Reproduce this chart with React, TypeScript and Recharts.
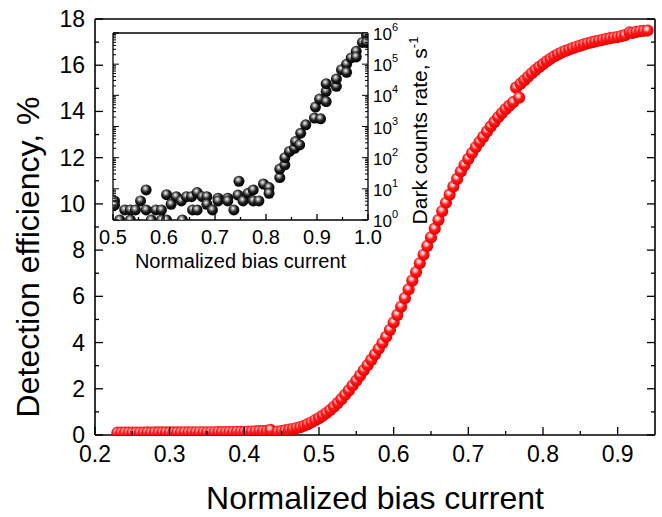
import { ScatterChart, Scatter, XAxis, YAxis } from 'recharts';

const FONT = '"Liberation Sans", Arial, Helvetica, sans-serif';

// Main plot: detection efficiency (%) vs normalized bias current
const EFF_X = [
  0.230, 0.235, 0.240, 0.245, 0.250, 0.255, 0.260, 0.265, 0.270, 0.275,
  0.280, 0.285, 0.290, 0.295, 0.300, 0.305, 0.310, 0.315, 0.320, 0.325,
  0.330, 0.335, 0.340, 0.345, 0.350, 0.355, 0.360, 0.365, 0.370, 0.375,
  0.380, 0.385, 0.390, 0.395, 0.400, 0.405, 0.410, 0.415, 0.420, 0.425,
  0.430, 0.435, 0.445, 0.450, 0.455, 0.460, 0.465, 0.470, 0.475, 0.480,
  0.485, 0.490, 0.495, 0.500, 0.505, 0.510, 0.515, 0.520, 0.525, 0.530,
  0.535, 0.540, 0.545, 0.550, 0.555, 0.560, 0.565, 0.570, 0.575, 0.580,
  0.585, 0.590, 0.595, 0.600, 0.605, 0.610, 0.615, 0.620, 0.625, 0.630,
  0.635, 0.640, 0.645, 0.650, 0.655, 0.660, 0.665, 0.670, 0.675, 0.680,
  0.685, 0.690, 0.695, 0.700, 0.705, 0.710, 0.715, 0.720, 0.725, 0.730,
  0.735, 0.740, 0.745, 0.750, 0.755, 0.760, 0.764, 0.768, 0.770, 0.775,
  0.780, 0.785, 0.790, 0.795, 0.800, 0.805, 0.810, 0.815, 0.820, 0.825,
  0.830, 0.835, 0.840, 0.845, 0.850, 0.855, 0.860, 0.865, 0.870, 0.875,
  0.880, 0.885, 0.890, 0.895, 0.900, 0.905, 0.910, 0.916, 0.920, 0.925,
  0.930, 0.935, 0.940,
];

const EFF_Y = [
  0.10, 0.10, 0.10, 0.10, 0.10, 0.10, 0.10, 0.10, 0.11, 0.10,
  0.11, 0.11, 0.11, 0.11, 0.11, 0.11, 0.11, 0.11, 0.12, 0.11,
  0.12, 0.12, 0.12, 0.12, 0.12, 0.12, 0.12, 0.13, 0.13, 0.13,
  0.13, 0.13, 0.14, 0.14, 0.14, 0.15, 0.15, 0.16, 0.17, 0.17,
  0.18, 0.22, 0.15, 0.17, 0.20, 0.23, 0.26, 0.30, 0.34, 0.40,
  0.47, 0.55, 0.64, 0.73, 0.84, 0.95, 1.08, 1.22, 1.38, 1.55,
  1.74, 1.93, 2.14, 2.35, 2.57, 2.80, 3.02, 3.25, 3.49, 3.73,
  3.98, 4.25, 4.55, 4.87, 5.20, 5.55, 5.92, 6.30, 6.68, 7.05,
  7.43, 7.80, 8.18, 8.55, 8.93, 9.30, 9.68, 10.05, 10.40, 10.75,
  11.08, 11.40, 11.68, 11.95, 12.20, 12.45, 12.68, 12.90, 13.13, 13.35,
  13.55, 13.75, 13.93, 14.10, 14.25, 14.40, 15.03, 14.60, 15.20, 15.35,
  15.50, 15.65, 15.80, 15.93, 16.05, 16.17, 16.28, 16.38, 16.47, 16.55,
  16.62, 16.68, 16.74, 16.80, 16.85, 16.90, 16.95, 16.99, 17.03, 17.07,
  17.10, 17.14, 17.17, 17.20, 17.22, 17.26, 17.30, 17.42, 17.40, 17.44,
  17.47, 17.49, 17.50,
];

// Inset: dark counts rate (1/s) vs normalized bias current
const DARK_X = [
  0.503, 0.503, 0.513, 0.523, 0.534, 0.534, 0.544, 0.554, 0.565, 0.565,
  0.575, 0.584, 0.595, 0.595, 0.605, 0.605, 0.614, 0.624, 0.634, 0.636,
  0.644, 0.654, 0.656, 0.665, 0.665, 0.675, 0.684, 0.684, 0.695, 0.706,
  0.706, 0.725, 0.725, 0.737, 0.745, 0.747, 0.755, 0.765, 0.775, 0.775,
  0.786, 0.795, 0.806, 0.806, 0.827, 0.827, 0.837, 0.837, 0.846, 0.856,
  0.858, 0.866, 0.868, 0.878, 0.895, 0.897, 0.907, 0.905, 0.918, 0.918,
  0.918, 0.938, 0.938, 0.948, 0.958, 0.958, 0.967, 0.977, 0.977, 0.989,
  0.997, 0.997,
];

const DARK_Y = [
  4.1, 3.0, 1, 2.1, 2.1, 1, 2.1, 4.1, 9.2, 2.1,
  1, 2.1, 2.1, 1, 6.5, 1, 3.2, 5.6, 4.1, 1,
  5.6, 5.6, 2.1, 7.6, 2.1, 5.6, 5.6, 3.2, 2.1, 5.0,
  4.1, 5.0, 4.1, 2.1, 6.3, 17.5, 4.1, 7.2, 9.2, 4.1,
  4.1, 14.3, 11, 7.2, 23, 43, 59, 100, 158, 200,
  330, 257, 610, 1130, 1860, 4200, 1770, 7600, 6300, 13400,
  23600, 19400, 33500, 66500, 100000, 54600, 158000, 258000, 170000, 500000,
  890000, 500000,
];

const MAIN_X_LABELS = [0.2, 0.3, 0.4, 0.5, 0.6, 0.7, 0.8, 0.9];
const MAIN_X_TICKS = [0.2, 0.25, 0.3, 0.35, 0.4, 0.45, 0.5, 0.55, 0.6, 0.65, 0.7, 0.75, 0.8, 0.85, 0.9];
const MAIN_Y_LABELS = [0, 2, 4, 6, 8, 10, 12, 14, 16, 18];
const MAIN_Y_TICKS = [0, 1, 2, 3, 4, 5, 6, 7, 8, 9, 10, 11, 12, 13, 14, 15, 16, 17, 18];

const INSET_X_LABELS = [0.5, 0.6, 0.7, 0.8, 0.9, 1.0];
const INSET_X_TICKS = [0.5, 0.55, 0.6, 0.65, 0.7, 0.75, 0.8, 0.85, 0.9, 0.95, 1.0];
const INSET_DECADES = [1, 10, 100, 1000, 10000, 100000, 1000000];
const LOG_STEPS = [1, 2, 3, 4, 5, 6, 7, 8, 9];
const INSET_Y_TICKS = INSET_DECADES.slice(0, -1)
  .flatMap((d) => LOG_STEPS.map((m) => d * m))
  .concat([1000000]);

const effData = EFF_X.map((x, i) => ({ x, y: EFF_Y[i] }));
const darkData = DARK_X.map((x, i) => ({ x, y: DARK_Y[i] }));

const RedBall = (p: any) => <circle cx={p.cx} cy={p.cy} r={6.1} fill="url(#redBall)" />;
const BlackBall = (p: any) => <circle cx={p.cx} cy={p.cy} r={5.5} fill="url(#blackBall)" />;

const txt = { fontFamily: FONT, fill: '#000' };

function xTick(side: 'top' | 'bottom', labels: number[] | null, size: number, gap: number, major = 8, minor = 4) {
  return (props: any) => {
    const { x, y, payload } = props;
    const v = payload.value as number;
    const isMajor = INSET_X_LABELS.includes(v) || MAIN_X_LABELS.includes(v);
    const len = isMajor ? major : minor;
    const dir = side === 'top' ? 1 : -1;
    return (
      <g>
        <line x1={x} x2={x} y1={y} y2={y + dir * len} stroke="#000" strokeWidth={1.3} />
        {labels && labels.includes(v) && (
          <text x={x} y={y + gap} textAnchor="middle" fontSize={size} {...txt}>
            {v.toFixed(1)}
          </text>
        )}
      </g>
    );
  };
}

function mainYTick(side: 'left' | 'right') {
  return (props: any) => {
    const { x, y, payload } = props;
    const v = payload.value as number;
    const isMajor = MAIN_Y_LABELS.includes(v);
    const len = isMajor ? 8 : 4;
    const dir = side === 'left' ? 1 : -1;
    return (
      <g>
        <line x1={x} x2={x + dir * len} y1={y} y2={y} stroke="#000" strokeWidth={1.3} />
        {side === 'left' && isMajor && (
          <text x={x - 10} y={y + 8} textAnchor="end" fontSize={23} {...txt}>
            {v}
          </text>
        )}
      </g>
    );
  };
}

function logTick(side: 'left' | 'right') {
  return (props: any) => {
    const { x, y, payload } = props;
    const v = payload.value as number;
    const isMajor = INSET_DECADES.includes(v);
    const len = isMajor ? 6 : 3;
    const dir = side === 'left' ? 1 : -1;
    return (
      <g>
        <line x1={x} x2={x + dir * len} y1={y} y2={y} stroke="#000" strokeWidth={1} />
        {side === 'right' && isMajor && (
          <text x={x + 5} y={y + 7} fontSize={17} {...txt}>
            10
            <tspan dy={-9} fontSize={11}>
              {Math.round(Math.log10(v))}
            </tspan>
          </text>
        )}
      </g>
    );
  };
}

const axisLine = { stroke: '#000', strokeWidth: 1.6 };
const insetLine = { stroke: '#000', strokeWidth: 1.3 };

export default function App() {
  return (
    <div style={{ position: 'absolute', left: 0, top: 0, width: 662, height: 517, background: '#fff' }}>
      <ScatterChart width={662} height={517} margin={{ top: 0, right: 0, bottom: 0, left: 0 }}>
        <defs>
          <radialGradient id="redBall" cx="0.42" cy="0.38" r="0.62" fx="0.42" fy="0.34">
            <stop offset="0" stopColor="#ffffff" />
            <stop offset="0.2" stopColor="#ffb4b4" />
            <stop offset="0.5" stopColor="#ff1a1a" />
            <stop offset="1" stopColor="#e60000" />
          </radialGradient>
          <radialGradient id="blackBall" cx="0.42" cy="0.38" r="0.62" fx="0.42" fy="0.34">
            <stop offset="0" stopColor="#ffffff" />
            <stop offset="0.2" stopColor="#a8a8a8" />
            <stop offset="0.55" stopColor="#1e1e1e" />
            <stop offset="1" stopColor="#000000" />
          </radialGradient>
        </defs>
        <XAxis
          xAxisId="b"
          type="number"
          dataKey="x"
          domain={[0.2, 0.95]}
          allowDataOverflow
          ticks={MAIN_X_TICKS}
          interval={0}
          tickSize={0}
          tickMargin={0}
          tickLine={false}
          height={82}
          axisLine={axisLine}
          tick={xTick('bottom', MAIN_X_LABELS, 23, 27)}
          label={{
            content: (p: any) => (
              <text x={p.viewBox.x + p.viewBox.width / 2} y={p.viewBox.y + 74} textAnchor="middle" fontSize={32} {...txt}>
                Normalized bias current
              </text>
            ),
          }}
        />
        <XAxis
          xAxisId="t"
          orientation="top"
          type="number"
          domain={[0.2, 0.95]}
          allowDataOverflow
          ticks={MAIN_X_TICKS}
          interval={0}
          tickSize={0}
          tickMargin={0}
          tickLine={false}
          height={19}
          axisLine={axisLine}
          tick={xTick('top', null, 22, 0)}
        />
        <YAxis
          yAxisId="l"
          type="number"
          dataKey="y"
          domain={[0, 18]}
          allowDataOverflow
          ticks={MAIN_Y_TICKS}
          interval={0}
          tickSize={0}
          tickMargin={0}
          tickLine={false}
          width={95}
          axisLine={axisLine}
          tick={mainYTick('left')}
          label={{
            content: (p: any) => {
              const cx = 39;
              const cy = p.viewBox.y + p.viewBox.height / 2 + 30;
              return (
                <text x={cx} y={cy} transform={`rotate(-90 ${cx} ${cy})`} textAnchor="middle" fontSize={32} {...txt}>
                  Detection efficiency, %
                </text>
              );
            },
          }}
        />
        <YAxis
          yAxisId="r"
          orientation="right"
          type="number"
          domain={[0, 18]}
          allowDataOverflow
          ticks={MAIN_Y_TICKS}
          interval={0}
          tickSize={0}
          tickMargin={0}
          tickLine={false}
          width={7}
          axisLine={axisLine}
          tick={mainYTick('right')}
        />
        <Scatter xAxisId="b" yAxisId="l" data={effData} shape={RedBall} isAnimationActive={false} />
      </ScatterChart>

      <div style={{ position: 'absolute', left: 0, top: 0 }}>
        <ScatterChart width={470} height={280} margin={{ top: 0, right: 0, bottom: 0, left: 0 }}>
          <XAxis
            xAxisId="b"
            type="number"
            dataKey="x"
            domain={[0.5, 1.0]}
            allowDataOverflow
            ticks={INSET_X_TICKS}
            interval={0}
            tickSize={0}
            tickMargin={0}
            tickLine={false}
            height={60}
            axisLine={insetLine}
            tick={xTick('bottom', INSET_X_LABELS, 20, 24, 6, 3)}
            label={{
              content: (p: any) => (
                <text x={p.viewBox.x + p.viewBox.width / 2} y={p.viewBox.y + 48} textAnchor="middle" fontSize={20} {...txt}>
                  Normalized bias current
                </text>
              ),
            }}
          />
          <XAxis
            xAxisId="t"
            orientation="top"
            type="number"
            domain={[0.5, 1.0]}
            allowDataOverflow
            ticks={INSET_X_TICKS}
            interval={0}
            tickSize={0}
            tickMargin={0}
            tickLine={false}
            height={33}
            axisLine={insetLine}
            tick={xTick('top', null, 19, 0, 6, 3)}
          />
          <YAxis
            yAxisId="l"
            type="number"
            scale="log"
            domain={[1, 1000000]}
            allowDataOverflow
            ticks={INSET_Y_TICKS}
            interval={0}
            tickSize={0}
            tickMargin={0}
            tickLine={false}
            width={113}
            axisLine={insetLine}
            tick={logTick('left')}
          />
          <YAxis
            yAxisId="r"
            orientation="right"
            type="number"
            dataKey="y"
            scale="log"
            domain={[1, 1000000]}
            allowDataOverflow
            ticks={INSET_Y_TICKS}
            interval={0}
            tickSize={0}
            tickMargin={0}
            tickLine={false}
            width={102}
            axisLine={insetLine}
            tick={logTick('right')}
            label={{
              content: (p: any) => {
                const cx = p.viewBox.x + 59;
                const cy = p.viewBox.y + p.viewBox.height / 2 + 4;
                return (
                  <text x={cx} y={cy} transform={`rotate(-90 ${cx} ${cy})`} textAnchor="middle" fontSize={21} {...txt}>
                    Dark counts rate, s
                    <tspan dy={-9} fontSize={13}>
                      -1
                    </tspan>
                  </text>
                );
              },
            }}
          />
          <Scatter xAxisId="b" yAxisId="r" data={darkData} shape={BlackBall} isAnimationActive={false} />
        </ScatterChart>
      </div>
    </div>
  );
}
